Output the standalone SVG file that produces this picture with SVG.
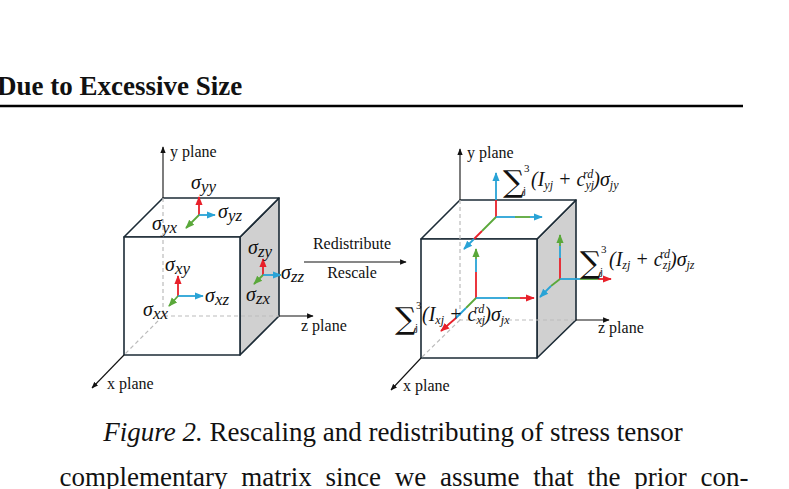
<svg xmlns="http://www.w3.org/2000/svg" width="789" height="489" viewBox="0 0 789 489">
<defs>
<marker id="ak" viewBox="0 0 10 10" refX="9" refY="5" markerWidth="6" markerHeight="6" orient="auto"><path d="M0,1 L10,5 L0,9 Z" fill="#111"/></marker>
<marker id="ar" viewBox="0 0 10 10" refX="9" refY="5" markerWidth="5" markerHeight="5" orient="auto"><path d="M0,1 L10,5 L0,9 Z" fill="#e8202a"/></marker>
<marker id="ab" viewBox="0 0 10 10" refX="9" refY="5" markerWidth="5" markerHeight="5" orient="auto"><path d="M0,1 L10,5 L0,9 Z" fill="#29a3d6"/></marker>
<marker id="ag" viewBox="0 0 10 10" refX="9" refY="5" markerWidth="5" markerHeight="5" orient="auto"><path d="M0,1 L10,5 L0,9 Z" fill="#5aa83a"/></marker>
</defs>
<style>
.edge{stroke:#1c2b36;stroke-width:1.6;fill:#fff;stroke-linejoin:round}
.side{fill:#d0d0d0}
.dash{stroke:#bbb;stroke-width:1.2;stroke-dasharray:4 3;fill:none}
.ax{stroke:#111;stroke-width:1.1;fill:none;marker-end:url(#ak)}
.r{stroke:#e8202a;stroke-width:1.8;fill:none}
.b{stroke:#29a3d6;stroke-width:1.8;fill:none}
.g{stroke:#5aa83a;stroke-width:1.8;fill:none}
.ra{marker-end:url(#ar)} .ba{marker-end:url(#ab)} .ga{marker-end:url(#ag)}
.lab{font-family:'Liberation Serif','Times New Roman',serif;font-size:16px;fill:#111}
.m{font-family:'Liberation Serif','Times New Roman',serif;font-style:italic;font-size:20px;fill:#111}
.sig{font-family:'DejaVu Serif',serif;font-size:30px;fill:#111}
.tiny{font-family:'Liberation Serif','Times New Roman',serif;font-size:11px;fill:#111}
.cap{font-family:'Liberation Serif','Times New Roman',serif;font-size:27px;fill:#111}
</style>
<text x="-3" y="95" class="cap" font-weight="bold" font-size="24.7" fill="#000">Due to Excessive Size</text>
<line x1="0" y1="106" x2="743" y2="106" stroke="#000" stroke-width="2.5"/>

<g id="left-cube">
<polygon class="edge side" points="240,237 279,198 279,316 240,355"/>
<polygon class="edge" points="124,237 163,198 279,198 240,237"/>
<rect class="edge" x="124" y="237" width="116" height="118"/>
<path class="dash" d="M163,198 V316 H279 M163,316 L124,355"/>
<line class="ax" x1="163" y1="198" x2="163" y2="147"/>
<line class="ax" x1="279" y1="316" x2="313" y2="316"/>
<line class="ax" x1="124" y1="355" x2="92" y2="388"/>
<text class="lab" x="170" y="157">y plane</text>
<text class="lab" x="301" y="331">z plane</text>
<text class="lab" x="107" y="389">x plane</text>
<line class="r ra" x1="199" y1="215" x2="199" y2="197"/>
<line class="b ba" x1="199" y1="215" x2="215" y2="215"/>
<line class="g ga" x1="199" y1="215" x2="186" y2="228"/>
<line class="r ra" x1="263" y1="275" x2="263" y2="259"/>
<line class="b ba" x1="263" y1="275" x2="281" y2="275"/>
<line class="g ga" x1="263" y1="275" x2="254" y2="284"/>
<line class="r ra" x1="178" y1="296" x2="178" y2="276"/>
<line class="b ba" x1="178" y1="296" x2="203" y2="296"/>
<line class="g ga" x1="178" y1="296" x2="169" y2="306"/>
<text class="m" x="191" y="189">σ<tspan font-size="17" dy="3">yy</tspan></text>
<text class="m" x="218" y="218">σ<tspan font-size="17" dy="3">yz</tspan></text>
<text class="m" x="152" y="230">σ<tspan font-size="17" dy="3">yx</tspan></text>
<text class="m" x="248" y="254">σ<tspan font-size="17" dy="3">zy</tspan></text>
<text class="m" x="281" y="279">σ<tspan font-size="17" dy="3">zz</tspan></text>
<text class="m" x="246" y="301">σ<tspan font-size="17" dy="3">zx</tspan></text>
<text class="m" x="165" y="271">σ<tspan font-size="17" dy="3">xy</tspan></text>
<text class="m" x="205" y="302">σ<tspan font-size="17" dy="3">xz</tspan></text>
<text class="m" x="143" y="316">σ<tspan font-size="17" dy="3">xx</tspan></text>
</g>

<g id="connectors">
<line class="ax" x1="304" y1="262" x2="406" y2="262"/>
<text class="lab" x="352" y="249" text-anchor="middle" font-size="15">Redistribute</text>
<text class="lab" x="352" y="278" text-anchor="middle" font-size="15">Rescale</text>
</g>

<g id="right-cube">
<polygon class="edge side" points="537,239 576,200 576,320 537,358"/>
<polygon class="edge" points="421,239 460,200 576,200 537,239"/>
<rect class="edge" x="421" y="239" width="116" height="119"/>
<path class="dash" d="M460,200 V320 H576 M460,320 L421,358"/>
<line class="ax" x1="460" y1="200" x2="460" y2="149"/>
<line class="ax" x1="576" y1="320" x2="609" y2="320"/>
<line class="ax" x1="421" y1="358" x2="391" y2="390"/>
<text class="lab" x="467" y="158">y plane</text>
<text class="lab" x="598" y="333">z plane</text>
<text class="lab" x="403" y="391">x plane</text>
<line class="r" x1="496" y1="217" x2="496" y2="200"/>
<line class="b ba" x1="496" y1="200" x2="496" y2="173"/>
<line class="b" x1="496" y1="217" x2="515" y2="217"/>
<line class="g" x1="515" y1="217" x2="530" y2="217"/>
<line class="b ba" x1="530" y1="217" x2="542" y2="217"/>
<line class="g" x1="496" y1="217" x2="482" y2="231"/>
<line class="r" x1="482" y1="231" x2="474" y2="239"/>
<line class="b ba" x1="474" y1="239" x2="464" y2="249"/>
<line class="r" x1="476" y1="298" x2="476" y2="272"/>
<line class="b" x1="476" y1="272" x2="476" y2="259"/>
<line class="g ga" x1="476" y1="259" x2="476" y2="249"/>
<line class="b" x1="476" y1="298" x2="508" y2="298"/>
<line class="g" x1="508" y1="298" x2="520" y2="298"/>
<line class="r ra" x1="520" y1="298" x2="534" y2="298"/>
<line class="g" x1="476" y1="298" x2="466" y2="308"/>
<line class="b" x1="466" y1="308" x2="456" y2="318"/>
<line class="r ra" x1="456" y1="318" x2="441" y2="331"/>
<line class="r" x1="560" y1="279" x2="560" y2="258"/>
<line class="b" x1="560" y1="258" x2="560" y2="246"/>
<line class="g ga" x1="560" y1="246" x2="560" y2="235"/>
<line class="b" x1="560" y1="279" x2="580" y2="279"/>
<line class="g" x1="580" y1="279" x2="598" y2="279"/>
<line class="r ra" x1="598" y1="279" x2="611" y2="279"/>
<line class="g" x1="560" y1="279" x2="551" y2="286"/>
<line class="b ba" x1="551" y1="286" x2="540" y2="297"/>
<text class="sig" x="503" y="192">∑</text><text class="tiny" x="524" y="172">3</text><text class="tiny" x="523" y="194">j</text>
<text class="m" x="531" y="186" font-size="16">(I<tspan font-size="12" dy="3">yj</tspan><tspan dy="-3"> + c</tspan><tspan font-size="12" dy="3">yj</tspan><tspan font-size="12" dx="-11" dy="-11">rd</tspan><tspan dy="8">)σ</tspan><tspan font-size="12" dy="3">jy</tspan></text>
<text class="sig" x="580" y="273">∑</text><text class="tiny" x="601" y="253">3</text><text class="tiny" x="600" y="275">j</text>
<text class="m" x="609" y="266" font-size="16">(I<tspan font-size="12" dy="3">zj</tspan><tspan dy="-3"> + c</tspan><tspan font-size="12" dy="3">zj</tspan><tspan font-size="12" dx="-11" dy="-11">rd</tspan><tspan dy="8">)σ</tspan><tspan font-size="12" dy="3">jz</tspan></text>
<text class="sig" x="395" y="329">∑</text><text class="tiny" x="416" y="309">3</text><text class="tiny" x="415" y="331">j</text>
<text class="m" x="422" y="321" font-size="16">(I<tspan font-size="12" dy="3">xj</tspan><tspan dy="-3"> + c</tspan><tspan font-size="12" dy="3">xj</tspan><tspan font-size="12" dx="-11" dy="-11">rd</tspan><tspan dy="8">)σ</tspan><tspan font-size="12" dy="3">jx</tspan></text>
</g>

<text x="393" y="441" text-anchor="middle" class="cap"><tspan font-style="italic">Figure 2.</tspan> Rescaling and redistributing of stress tensor</text>
<text x="404" y="486" text-anchor="middle" class="cap" font-size="28" word-spacing="7">complementary matrix since we assume that the prior con-</text>
</svg>
